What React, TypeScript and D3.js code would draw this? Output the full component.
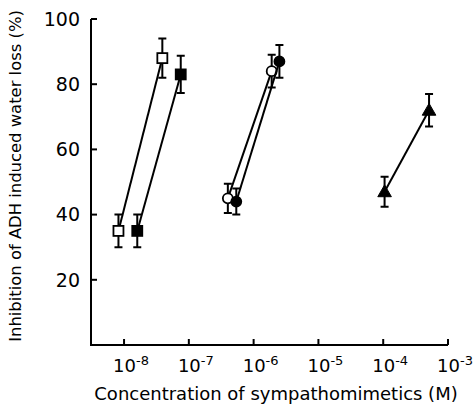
import { useEffect, useRef } from 'react'
import * as d3 from 'd3'

// each series: concentrations (M), inhibition (%), error (+/-)
const openSquareX = [8.2e-9, 3.9e-8]
const openSquareY = [35, 88]
const openSquareErr = [5, 6]

const filledSquareX = [1.6e-8, 7.5e-8]
const filledSquareY = [35, 83]
const filledSquareErr = [5, 5.7]

const openCircleX = [4.0e-7, 1.9e-6]
const openCircleY = [45, 84]
const openCircleErr = [4.5, 5]

const filledCircleX = [5.4e-7, 2.5e-6]
const filledCircleY = [44, 87]
const filledCircleErr = [4, 5]

const triangleX = [1.05e-4, 5.1e-4]
const triangleY = [47, 72]
const triangleErr = [4.6, 5]

const yTicks = [20, 40, 60, 80, 100]
const xTickExps = [-8, -7, -6, -5, -4, -3]

const series = [
  { x: openSquareX, y: openSquareY, err: openSquareErr, shape: 'square', filled: false },
  { x: filledSquareX, y: filledSquareY, err: filledSquareErr, shape: 'square', filled: true },
  { x: openCircleX, y: openCircleY, err: openCircleErr, shape: 'circle', filled: false },
  { x: filledCircleX, y: filledCircleY, err: filledCircleErr, shape: 'circle', filled: true },
  { x: triangleX, y: triangleY, err: triangleErr, shape: 'triangle', filled: true },
]

export default function App() {
  const ref = useRef<SVGSVGElement>(null)

  useEffect(() => {
    const width = 476
    const height = 412
    const font = '"DejaVu Sans", sans-serif'
    const svg = d3.select(ref.current)
    svg.selectAll('*').remove()
    svg.attr('viewBox', `0 0 ${width} ${height}`)

    const x = d3.scaleLog().domain([Math.pow(10, -8.51), 1e-3]).range([91, 448])
    const y = d3.scaleLinear().domain([0, 100]).range([345, 19])

    // axes
    const ax = svg.append('g').attr('stroke', '#000').attr('stroke-width', 2).attr('fill', 'none')
    ax.append('line').attr('x1', x.range()[0]).attr('x2', x.range()[0]).attr('y1', y(0) + 1).attr('y2', y(100))
    ax.append('line').attr('x1', x.range()[0] - 1).attr('x2', x.range()[1]).attr('y1', y(0)).attr('y2', y(0))
    yTicks.forEach(t => {
      ax.append('line').attr('x1', x.range()[0]).attr('x2', x.range()[0] + 6).attr('y1', y(t)).attr('y2', y(t))
    })
    xTickExps.forEach(e => {
      ax.append('line').attr('x1', x(Math.pow(10, e))).attr('x2', x(Math.pow(10, e)))
        .attr('y1', y(0)).attr('y2', y(0) - 6)
    })

    // tick labels
    svg.append('g').selectAll('text').data(yTicks).enter().append('text')
      .attr('x', 80).attr('y', d => y(d)).attr('dy', '0.36em')
      .attr('text-anchor', 'end')
      .style('font-family', font).style('font-size', '19px')
      .text(d => d)

    const xl = svg.append('g').selectAll('text').data(xTickExps).enter().append('text')
      .attr('x', d => x(Math.pow(10, d)) + 7).attr('y', 372)
      .attr('text-anchor', 'middle')
      .style('font-family', font).style('font-size', '18px')
    xl.append('tspan').text('10')
    xl.append('tspan').attr('dy', -7).style('font-size', '13px').text(d => d)

    // axis titles
    svg.append('text')
      .attr('x', 276).attr('y', 400).attr('text-anchor', 'middle')
      .style('font-family', font).style('font-size', '18px')
      .text('Concentration of sympathomimetics (M)')
    svg.append('text')
      .attr('transform', 'translate(21,176) rotate(-90)').attr('text-anchor', 'middle')
      .style('font-family', font).style('font-size', '16.4px')
      .text('Inhibition of ADH induced water loss (%)')

    // series
    series.forEach(s => {
      const pts = s.x.map((v, i) => ({ cx: x(v), cy: y(s.y[i]), lo: y(s.y[i] - s.err[i]), hi: y(s.y[i] + s.err[i]) }))
      const g = svg.append('g')
      g.append('path')
        .attr('d', d3.line<any>().x(d => d.cx).y(d => d.cy)(pts))
        .attr('stroke', '#000').attr('stroke-width', 2).attr('fill', 'none')
      pts.forEach(p => {
        g.append('path')
          .attr('d', `M${p.cx},${p.lo}V${p.hi}M${p.cx - 4},${p.lo}H${p.cx + 4}M${p.cx - 4},${p.hi}H${p.cx + 4}`)
          .attr('stroke', '#000').attr('stroke-width', 2).attr('fill', 'none')
        const fill = s.filled ? '#000' : '#fff'
        if (s.shape === 'square') {
          g.append('rect').attr('x', p.cx - 5).attr('y', p.cy - 5).attr('width', 10).attr('height', 10)
            .attr('fill', fill).attr('stroke', '#000').attr('stroke-width', 1.8)
        } else if (s.shape === 'circle') {
          g.append('circle').attr('cx', p.cx).attr('cy', p.cy).attr('r', 5)
            .attr('fill', fill).attr('stroke', '#000').attr('stroke-width', 1.8)
        } else {
          g.append('path')
            .attr('d', d3.symbol().type(d3.symbolTriangle).size(80)())
            .attr('transform', `translate(${p.cx},${p.cy + 1})`)
            .attr('fill', fill).attr('stroke', '#000').attr('stroke-width', 1)
        }
      })
    })
  }, [])

  return <svg ref={ref} width={476} height={412} style={{ position: 'absolute', left: 0, top: 0, background: '#fff' }} />
}
